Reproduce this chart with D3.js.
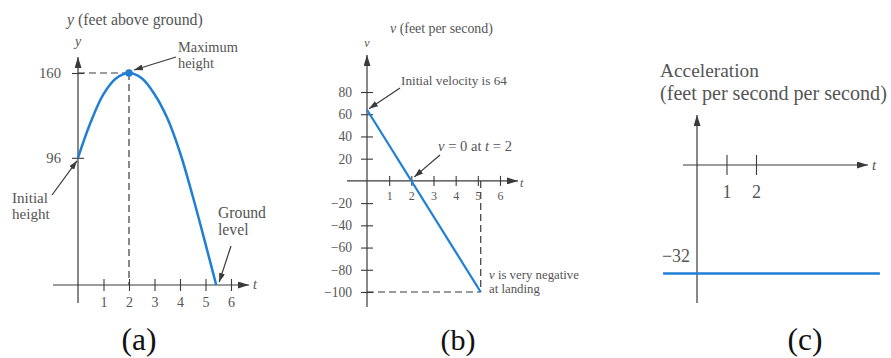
<!DOCTYPE html>
<html>
<head>
<meta charset="utf-8">
<script src="https://cdn.jsdelivr.net/npm/d3@7"></script>
<style>
  body { margin: 0; background: #fff; }
  svg { display: block; }
  text { font-family: "Liberation Serif", "Times New Roman", serif; fill: #555; }
</style>
</head>
<body>
<svg id="chart" width="891" height="358"></svg>
<script>
// (a) height of the ball above ground, feet, against time in seconds
const heightTime = [0, 0.5, 1, 1.5, 2, 2.5, 3, 3.5, 4, 4.5, 5, 5.42];
const heightFeet = [96, 123, 144, 156, 160, 156, 144, 126, 100, 67, 31, 0];
const heightTimeTicks = [1, 2, 3, 4, 5, 6];
const heightFeetTicks = [96, 160];
const peakTime = 2;
const peakHeight = 160;

// (b) velocity, feet per second
const velocityTime = [0, 5.13];
const velocityFps = [64, -100];
const velocityTimeTicks = [1, 2, 3, 4, 5, 6];
const velocityFpsTicks = [80, 60, 40, 20, -20, -40, -60, -80, -100];
const zeroVelocityTime = 2;

// (c) acceleration, feet per second per second
const accelTime = [-1.15, 6.2];
const accelFps2 = [-32, -32];
const accelTimeTicks = [1, 2];
const accelValueLabels = [-32];

const panelLabels = ["(a)", "(b)", "(c)"];

const BLUE = "#1f7fd6";
const INK = "#3a3a3a";
const TEXT = "#555";
const SERIF = '"Liberation Serif", "Times New Roman", serif';
const minus = d => d < 0 ? "\u2212" + Math.abs(d) : String(d);

const svg = d3.select("#chart");
const defs = svg.append("defs");

function marker(id, w, h) {
  defs.append("marker")
    .attr("id", id)
    .attr("viewBox", `0 0 ${w} ${h}`)
    .attr("refX", w).attr("refY", h / 2)
    .attr("markerWidth", w).attr("markerHeight", h)
    .attr("markerUnits", "userSpaceOnUse")
    .attr("orient", "auto")
    .append("path")
    .attr("d", `M0,0L${w},${h / 2}L0,${h}Z`)
    .attr("fill", INK);
}
marker("axisHead", 11, 7);
marker("noteHead", 9, 6);

function line(g, x1, y1, x2, y2, head) {
  const l = g.append("line")
    .attr("x1", x1).attr("y1", y1).attr("x2", x2).attr("y2", y2)
    .attr("stroke", INK).attr("stroke-width", 1.2);
  if (head) l.attr("marker-end", `url(#${head})`);
  return l;
}
function dashed(g, x1, y1, x2, y2) {
  return line(g, x1, y1, x2, y2).attr("stroke-dasharray", "7,4");
}
// set a text's font size so that it spans the given width
function fit(sel, width) {
  const s0 = 20;
  sel.attr("font-size", s0);
  const w = sel.node().getComputedTextLength();
  const s = s0 * width / w;
  sel.attr("font-size", s);
  return s;
}
// parts: a string, or an array of [string, italic]
function text(g, x, y, parts, width, opts = {}) {
  const t = g.append("text").attr("x", x).attr("y", y);
  if (typeof parts === "string") parts = [[parts, !!opts.italic]];
  parts.forEach(([s, it]) => {
    const sp = t.append("tspan").text(s);
    if (it) sp.attr("font-style", "italic");
  });
  if (opts.anchor) t.attr("text-anchor", opts.anchor);
  if (opts.size) t.attr("font-size", opts.size);
  else fit(t, width);
  return t;
}
// crossing tick marks built from a d3 axis; labels sized from one sample width
function styleAxis(g, half, horizontal, sample) {
  g.select(".domain").remove();
  g.attr("font-family", SERIF);
  g.selectAll(".tick line").attr("stroke", INK).attr("stroke-width", 1.1);
  if (horizontal) g.selectAll(".tick line").attr("y1", -half).attr("y2", half);
  else g.selectAll(".tick line").attr("x1", -half).attr("x2", half);
  const labels = g.selectAll(".tick text").attr("fill", TEXT);
  const s = fit(d3.select(labels.nodes()[sample[0]]), sample[1]);
  labels.attr("font-size", s);
}

/* ---------- (a) height ---------- */
{
  const g = svg.append("g");
  const x = d3.scaleLinear().domain([0, 6]).range([78, 231]);
  const y = d3.scaleLinear().domain([0, 160]).range([285, 73]);

  dashed(g, x(0), y(peakHeight), x(peakTime), y(peakHeight));
  dashed(g, x(peakTime), y(peakHeight), x(peakTime), y(0));

  line(g, x(0), 303, x(0), 57, "axisHead");
  line(g, 53, y(0), 249, y(0), "axisHead");

  const ax = g.append("g").attr("transform", `translate(0,${y(0)})`)
    .call(d3.axisBottom(x).tickValues(heightTimeTicks).tickFormat(d3.format("d"))
      .tickSize(6).tickPadding(6));
  styleAxis(ax, 6, true, [0, 7]);
  const ay = g.append("g").attr("transform", `translate(${x(0)},0)`)
    .call(d3.axisLeft(y).tickValues(heightFeetTicks).tickFormat(d3.format("d"))
      .tickSize(6).tickPadding(11));
  styleAxis(ay, 6, false, [1, 22]);

  const pts = heightTime.map((t, i) => [t, heightFeet[i]]);
  g.append("path")
    .attr("d", d3.line().x(d => x(d[0])).y(d => y(d[1])).curve(d3.curveCatmullRom)(pts))
    .attr("fill", "none").attr("stroke", BLUE).attr("stroke-width", 2.5);
  g.append("circle").attr("cx", x(peakTime)).attr("cy", y(peakHeight)).attr("r", 3.8).attr("fill", BLUE);

  text(g, 67, 25, [["y", true], [" (feet above ground)", false]], 136);
  text(g, x(0), 46, "y", 0, { italic: true, anchor: "middle", size: 14 });
  text(g, 253, 289, "t", 0, { italic: true, size: 14 });

  const s1 = fit(text(g, 178, 52, "Maximum", 60), 60);
  text(g, 178, 68, "height", 0, { size: s1 });
  line(g, 176, 57, x(peakTime) + 5, y(peakHeight) - 3, "noteHead");

  const s2 = fit(text(g, 12, 203, "Initial", 36), 36);
  text(g, 12, 219, "height", 0, { size: s2 });
  line(g, 52, 195, x(0) - 1, y(heightFeet[0]) + 3, "noteHead");

  const s3 = fit(text(g, 218, 218, "Ground", 48), 48);
  text(g, 218, 235, "level", 0, { size: s3 });
  line(g, 231, 246, x(heightTime[heightTime.length - 1]) + 3, y(0) - 3, "noteHead");
}

/* ---------- (b) velocity ---------- */
{
  const g = svg.append("g");
  const x = d3.scaleLinear().domain([0, 6]).range([367, 500]);
  const y = d3.scaleLinear().domain([-100, 80]).range([292, 92]);
  const tEnd = velocityTime[velocityTime.length - 1];
  const vEnd = velocityFps[velocityFps.length - 1];

  dashed(g, x(tEnd), y(0), x(tEnd), y(vEnd));
  dashed(g, x(0), y(vEnd), x(tEnd), y(vEnd));

  line(g, x(0), 307, x(0), 55, "axisHead");
  line(g, 347, y(0), 518, y(0), "axisHead");

  const ax = g.append("g").attr("transform", `translate(0,${y(0)})`)
    .call(d3.axisBottom(x).tickValues(velocityTimeTicks).tickFormat(d3.format("d"))
      .tickSize(5).tickPadding(6));
  styleAxis(ax, 5, true, [0, 6]);
  const ay = g.append("g").attr("transform", `translate(${x(0)},0)`)
    .call(d3.axisLeft(y).tickValues(velocityFpsTicks).tickFormat(minus)
      .tickSize(6).tickPadding(9));
  styleAxis(ay, 6, false, [8, 28]);

  const pts = velocityTime.map((t, i) => [t, velocityFps[i]]);
  g.append("path")
    .attr("d", d3.line().x(d => x(d[0])).y(d => y(d[1]))(pts))
    .attr("fill", "none").attr("stroke", BLUE).attr("stroke-width", 2.2);

  text(g, 390, 33, [["v", true], [" (feet per second)", false]], 103);
  text(g, x(0), 47, "v", 0, { italic: true, anchor: "middle", size: 12 });
  text(g, 520, 187, "t", 0, { italic: true, size: 12 });

  text(g, 401, 85, "Initial velocity is 64", 106);
  line(g, 400, 88, x(0) + 2, y(velocityFps[0]) - 1, "noteHead");

  text(g, 438, 151, [["v", true], [" = 0 at ", false], ["t", true], [" = 2", false]], 74);
  line(g, 440, 155, x(zeroVelocityTime) + 3, y(0) - 4, "noteHead");

  const s4 = fit(text(g, 489, 279, [["v", true], [" is very negative", false]], 90), 90);
  text(g, 489, 293, "at landing", 0, { size: s4 });
}

/* ---------- (c) acceleration ---------- */
{
  const g = svg.append("g");
  const x = d3.scaleLinear().domain([0, 2]).range([697, 756]);
  const y = d3.scaleLinear().domain([-32, 0]).range([273.5, 165]);

  line(g, x(0), 303, x(0), 115, "axisHead");
  line(g, 683, y(0), 868, y(0), "axisHead");

  const ax = g.append("g").attr("transform", `translate(0,${y(0)})`)
    .call(d3.axisBottom(x).tickValues(accelTimeTicks).tickFormat(d3.format("d"))
      .tickSize(10).tickPadding(10));
  styleAxis(ax, 10, true, [1, 9]);

  const pts = accelTime.map((t, i) => [t, accelFps2[i]]);
  g.append("path")
    .attr("d", d3.line().x(d => x(d[0])).y(d => y(d[1]))(pts))
    .attr("fill", "none").attr("stroke", BLUE).attr("stroke-width", 2.5);

  accelValueLabels.forEach(v => {
    const t = text(g, x(0) - 7, y(v) - 12, minus(v), 28);
    t.attr("text-anchor", "end");
  });

  text(g, 660, 77, "Acceleration", 99);
  text(g, 660, 100, "(feet per second per second)", 227);
  text(g, 872, 170, "t", 0, { italic: true, size: 15 });
}

/* ---------- panel captions ---------- */
const captionX = [139, 458, 805];
panelLabels.forEach((s, i) => {
  const t = svg.append("text").attr("x", captionX[i]).attr("y", 350)
    .attr("text-anchor", "middle").style("fill", "#111").text(s);
  fit(t, 35);
});
</script>
</body>
</html>
